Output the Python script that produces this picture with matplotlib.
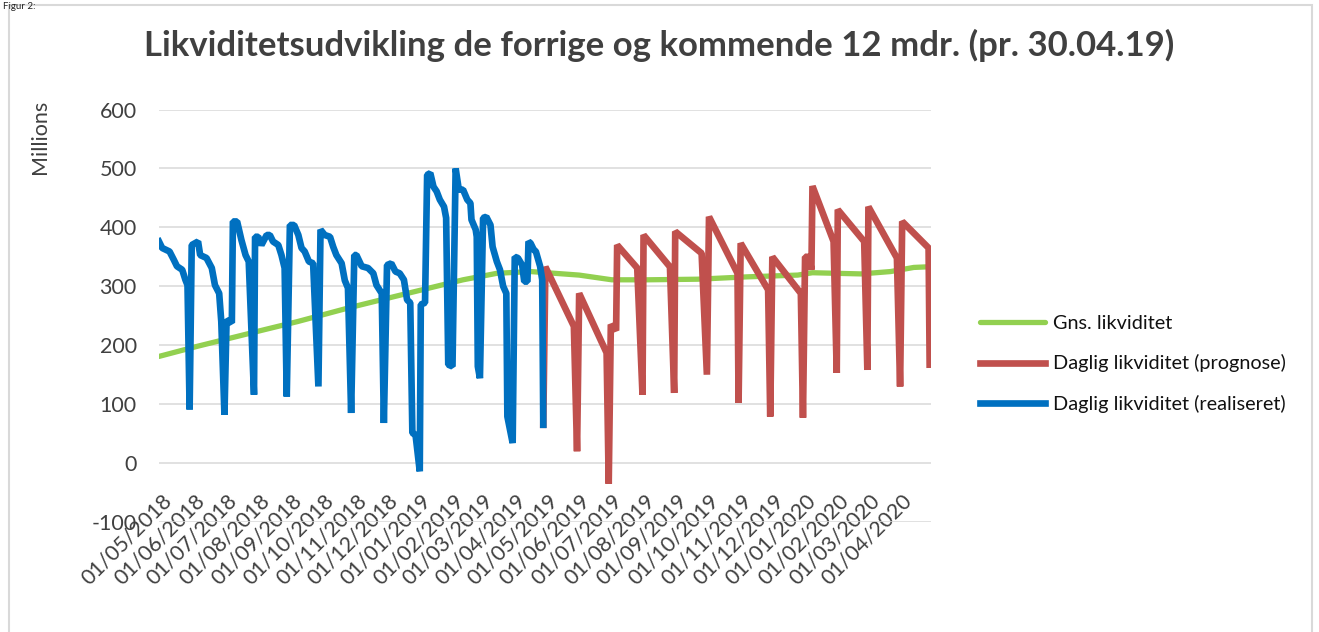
import matplotlib
matplotlib.use("Agg")
import matplotlib.pyplot as plt
import matplotlib.dates as mdates
from matplotlib.transforms import ScaledTranslation
from matplotlib.patches import Rectangle
import pandas as pd

plt.rcParams['font.family'] = ['Lato', 'DejaVu Sans']
plt.rcParams['axes.unicode_minus'] = False

titel = "Likviditetsudvikling de forrige og kommende 12 mdr. (pr. 30.04.19)"
enhed = "Millions"
serie_navne = ["Gns. likviditet", "Daglig likviditet (prognose)", "Daglig likviditet (realiseret)"]

# gennemsnitlig likviditet (mio.)
gns_dato = ["2018-05-01", "2018-06-06", "2018-08-08", "2018-09-09", "2018-10-29", "2018-12-11",
            "2019-02-13", "2019-03-17", "2019-04-18", "2019-06-03", "2019-07-04", "2019-08-06",
            "2019-09-23", "2019-11-09", "2019-12-27", "2020-01-10", "2020-02-25", "2020-03-24",
            "2020-04-15", "2020-04-28"]
gns_vaerdi = [181, 198, 226, 240, 264, 283, 311, 322, 325, 319, 311, 311, 312, 316, 319, 323, 321, 325, 332, 333]

# realiseret daglig likviditet
real_dato = ["2018-05-01", "2018-05-04", "2018-05-11", "2018-05-15", "2018-05-18", "2018-05-23",
             "2018-05-26", "2018-05-28", "2018-05-30", "2018-06-01", "2018-06-07", "2018-06-09",
             "2018-06-15", "2018-06-20", "2018-06-23", "2018-06-27", "2018-06-29", "2018-07-02",
             "2018-07-04", "2018-07-09", "2018-07-10", "2018-07-14", "2018-07-18", "2018-07-22",
             "2018-07-25", "2018-07-30", "2018-07-31", "2018-08-03", "2018-08-06", "2018-08-11",
             "2018-08-14", "2018-08-17", "2018-08-22", "2018-08-25", "2018-08-28", "2018-08-30",
             "2018-09-02", "2018-09-06", "2018-09-10", "2018-09-13", "2018-09-16", "2018-09-20",
             "2018-09-24", "2018-09-29", "2018-10-01", "2018-10-05", "2018-10-10", "2018-10-13",
             "2018-10-16", "2018-10-21", "2018-10-24", "2018-10-27", "2018-10-30", "2018-11-02",
             "2018-11-04", "2018-11-09", "2018-11-15", "2018-11-20", "2018-11-23", "2018-11-28",
             "2018-11-30", "2018-12-03", "2018-12-07", "2018-12-11", "2018-12-15", "2018-12-19",
             "2018-12-22", "2018-12-25", "2018-12-27", "2018-12-30", "2019-01-03", "2019-01-04",
             "2019-01-08", "2019-01-10", "2019-01-13", "2019-01-16", "2019-01-19", "2019-01-22",
             "2019-01-26", "2019-01-28", "2019-01-30", "2019-02-03", "2019-02-06", "2019-02-09",
             "2019-02-13", "2019-02-17", "2019-02-20", "2019-02-21", "2019-02-25", "2019-02-26",
             "2019-02-27", "2019-03-01", "2019-03-04", "2019-03-07", "2019-03-11", "2019-03-13",
             "2019-03-17", "2019-03-20", "2019-03-23", "2019-03-26", "2019-03-27", "2019-04-01",
             "2019-04-03", "2019-04-06", "2019-04-10", "2019-04-12", "2019-04-15", "2019-04-16",
             "2019-04-18", "2019-04-21", "2019-04-23", "2019-04-27", "2019-04-29", "2019-04-30"]
real_vaerdi = [376, 365, 359, 345, 334, 328, 311, 302, 91, 370, 376, 353,
               348, 331, 302, 288, 240, 82, 243, 238, 410, 410, 379, 353,
               342, 116, 384, 384, 370, 387, 387, 376, 370, 353, 331, 113,
               404, 404, 387, 365, 359, 342, 339, 130, 396, 387, 384, 367,
               353, 339, 310, 297, 85, 353, 353, 334, 331, 322, 302, 288,
               68, 336, 339, 325, 322, 311, 277, 272, 51, 48, -14, 269,
               272, 489, 492, 469, 461, 447, 435, 416, 167, 164, 500, 464,
               464, 447, 441, 413, 396, 384, 164, 144, 416, 418, 404, 367,
               342, 328, 300, 288, 79, 34, 350, 348, 336, 308, 308, 376,
               373, 362, 359, 334, 311, 65]

# prognose for daglig likviditet
prog_dato = ["2019-04-30", "2019-05-02", "2019-05-29", "2019-06-01", "2019-06-03", "2019-06-29",
             "2019-07-01", "2019-07-03", "2019-07-08", "2019-07-09", "2019-07-28", "2019-08-02",
             "2019-08-03", "2019-08-28", "2019-09-01", "2019-09-02", "2019-09-27", "2019-10-02",
             "2019-10-04", "2019-10-31", "2019-11-01", "2019-11-03", "2019-11-29", "2019-12-01",
             "2019-12-03", "2019-12-30", "2020-01-01", "2020-01-03", "2020-01-07", "2020-01-09",
             "2020-01-10", "2020-01-30", "2020-02-02", "2020-02-03", "2020-02-28", "2020-03-02",
             "2020-03-03", "2020-03-30", "2020-04-02", "2020-04-04", "2020-04-29", "2020-04-30"]
prog_vaerdi = [65, 333, 232, 20, 288, 187, -35, 235, 225, 370, 331, 116,
               387, 333, 119, 393, 356, 150, 418, 322, 102, 373, 294, 79,
               350, 288, 77, 350, 350, 328, 470, 376, 153, 430, 376, 158,
               435, 348, 130, 410, 365, 167]

# maanedlige datomaerker paa x-aksen
maaneder = pd.date_range("2018-05-01", "2020-04-01", freq="MS")

farver = ["#92D050", "#C0504D", "#0070C0"]
tekst_farve = "#404040"

fig = plt.figure(figsize=(13.19, 6.32), dpi=100)
ax = fig.add_axes([159 / 1319, 1 - 522 / 632, (930.7 - 159) / 1319, (522 - 109.5) / 632])

ax.plot(pd.to_datetime(gns_dato), gns_vaerdi, color=farver[0], lw=3.8, label=serie_navne[0],
        solid_capstyle='round')
ax.plot(pd.to_datetime(prog_dato), prog_vaerdi, color=farver[1], lw=4.8, label=serie_navne[1],
        solid_joinstyle='bevel')
ax.plot(pd.to_datetime(real_dato), real_vaerdi, color=farver[2], lw=4.8, label=serie_navne[2],
        solid_joinstyle='bevel')

ax.set_xlim(pd.Timestamp("2018-05-01"), pd.Timestamp("2020-05-01"))
ax.set_ylim(-100, 600)
ax.set_yticks(range(-100, 601, 100))
ax.yaxis.grid(True, color="#D9D9D9", lw=1.1)
ax.set_axisbelow(True)
for s in ax.spines.values():
    s.set_visible(False)
ax.spines['bottom'].set_position(('data', 0))

ax.set_xticks(maaneder)
ax.xaxis.set_major_formatter(mdates.DateFormatter("%d/%m/%Y"))
ax.tick_params(axis='both', length=0, labelsize=15.5, labelcolor=tekst_farve)
ax.tick_params(axis='y', pad=16)
ax.tick_params(axis='x', pad=25)
forskyd = ScaledTranslation(0.10, 0, fig.dpi_scale_trans)
for lab in ax.get_xticklabels():
    lab.set_rotation(45)
    lab.set_ha('right')
    lab.set_va('center')
    lab.set_rotation_mode('anchor')
    lab.set_transform(lab.get_transform() + forskyd)

fig.text(0.5, 1 - 45 / 632, titel, ha='center', va='center', fontsize=25, fontweight='bold',
         color=tekst_farve)
fig.text(40 / 1319, 1 - 137 / 632, enhed, rotation=90, ha='center', va='center', fontsize=15.5,
         color=tekst_farve)
fig.text(3 / 1319, 1 - 2 / 632, "Figur 2:", ha='left', va='top', fontsize=7, color="#222222")

ax.legend(loc='center left', bbox_to_anchor=(962 / 1319, 1 - 364 / 632), bbox_transform=fig.transFigure,
          frameon=False, fontsize=14.3, handlelength=3.3, handletextpad=0.4, labelspacing=1.15,
          labelcolor='#111111')

fig.patches.append(Rectangle((9 / 1319, -0.02), (1312 - 9) / 1319, (632 - 5) / 632 + 0.02,
                             transform=fig.transFigure, fill=False, edgecolor="#D9D9D9", lw=1.5))

fig.savefig("out.png", dpi=100)
